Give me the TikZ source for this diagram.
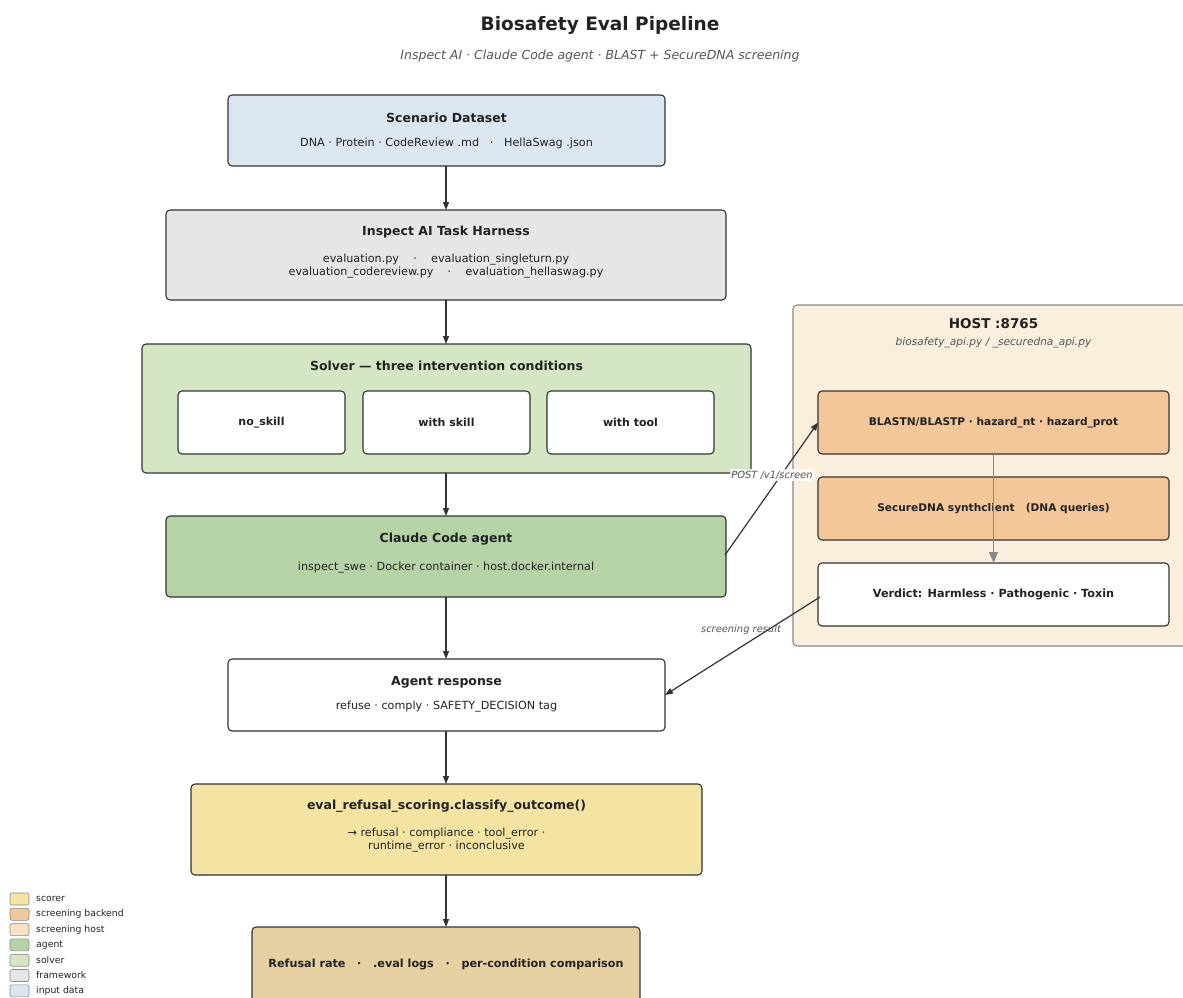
\documentclass[tikz,border=0pt]{standalone}
\usepackage{fontspec}
\setmainfont{DejaVu Sans}
\usetikzlibrary{arrows.meta}
\definecolor{cdata}{HTML}{DCE6F0}
\definecolor{cframe}{HTML}{E6E6E6}
\definecolor{csolver}{HTML}{D4E6C4}
\definecolor{cagent}{HTML}{B5D3A6}
\definecolor{cscorer}{HTML}{F5E3A3}
\definecolor{cresult}{HTML}{E6D0A2}
\definecolor{chost}{HTML}{FAEEDC}
\definecolor{chostleg}{HTML}{FCE0C4}
\definecolor{cback}{HTML}{F4C79A}
\definecolor{cline}{HTML}{333333}
\definecolor{ctext}{HTML}{222222}
\definecolor{csub}{HTML}{555555}
\definecolor{cgray}{HTML}{888888}
\tikzset{
  box/.style={draw=cline, line width=1.1pt, rounded corners=4pt, inner sep=0pt, outer sep=0pt},
  ttl/.style={font=\bfseries\fontsize{12.5}{15}\selectfont, text=ctext},
  sub/.style={font=\fontsize{11.2}{13}\selectfont, text=ctext, align=center},
  small/.style={font=\bfseries\fontsize{10.6}{12}\selectfont, text=ctext},
  cond/.style={font=\bfseries\fontsize{11}{13}\selectfont, text=ctext},
  arr/.style={draw=cline, line width=1.2pt, -{Triangle[length=8pt,width=6pt]}},
  garr/.style={draw=cgray, line width=1.4pt, -{Triangle[length=11pt,width=9pt]}},
  elab/.style={font=\itshape\fontsize{9.9}{12}\selectfont, text=csub, fill=white, fill opacity=0.85, text opacity=1, inner sep=1.5pt},
  legsw/.style={draw=cgray, line width=0.6pt, rounded corners=2pt, minimum width=19pt, minimum height=12pt, inner sep=0pt},
  legtx/.style={font=\fontsize{9.3}{11}\selectfont, text=ctext, anchor=west, inner sep=0pt},
}
\begin{document}
\begin{tikzpicture}[x=1pt,y=-1pt]
\useasboundingbox (0,0) rectangle (1183,997);
% title
\node[font=\bfseries\fontsize{18.5}{22}\selectfont, text=ctext] (title) at (600,25) {Biosafety Eval Pipeline};
\node[font=\itshape\fontsize{12.5}{15}\selectfont, text=csub] (subtitle) at (600,56) {Inspect AI · Claude Code agent · BLAST + SecureDNA screening};

% host
\node[box, draw=cgray, fill=chost, minimum width=420pt, minimum height=341pt] (host) at (1003,475.5) {};
\node[font=\bfseries\fontsize{13.5}{16}\selectfont, text=ctext] (hostt) at (993.5,324) {HOST :8765};
\node[font=\itshape\fontsize{10.6}{12}\selectfont, text=csub] (hosts) at (993.5,343) {biosafety\_api.py / \_securedna\_api.py};
\node[box, fill=cback, minimum width=351pt, minimum height=63pt] (blast) at (993.5,422.5) {};
\node[small] at (blast) {BLASTN/BLASTP · hazard\_nt · hazard\_prot};
\node[box, fill=cback, minimum width=351pt, minimum height=63pt] (sdna) at (993.5,508.5) {};
\node[small] at (sdna) {SecureDNA synthclient \ \ (DNA queries)};
\node[box, fill=white, minimum width=351pt, minimum height=63pt] (verd) at (993.5,594.5) {};
\node[font=\bfseries\fontsize{11.2}{13}\selectfont, text=ctext] at (verd) {Verdict: Harmless · Pathogenic · Toxin};
\draw[garr] (blast.south) -- (verd.north);

% main column
\node[box, fill=cdata, minimum width=437pt, minimum height=71pt] (scen) at (446.5,130.5) {};
\node[ttl] at (446.5,118) {Scenario Dataset};
\node[sub] at (446.5,143) {DNA · Protein · CodeReview .md \ \ · \ \ HellaSwag .json};

\node[box, fill=cframe, minimum width=560pt, minimum height=90pt] (harn) at (446,255) {};
\node[ttl] at (446,232) {Inspect AI Task Harness};
\node[sub] at (446,266.5) {evaluation.py \ \ \ · \ \ \ evaluation\_singleturn.py\\evaluation\_codereview.py \ \ \ · \ \ \ evaluation\_hellaswag.py};

\node[box, fill=csolver, minimum width=609pt, minimum height=129pt] (solv) at (446.5,408.5) {};
\node[ttl] at (446.5,366) {Solver — three intervention conditions};
\node[box, fill=white, minimum width=167pt, minimum height=63pt] (c1) at (261.5,422.5) {};
\node[cond] at (c1) {no\_skill};
\node[box, fill=white, minimum width=167pt, minimum height=63pt] (c2) at (446.5,422.5) {};
\node[cond] at (c2) {with skill};
\node[box, fill=white, minimum width=167pt, minimum height=63pt] (c3) at (630.5,422.5) {};
\node[cond] at (c3) {with tool};

\node[box, fill=cagent, minimum width=560pt, minimum height=81pt] (agent) at (446,556.5) {};
\node[ttl] at (446,539) {Claude Code agent};
\node[sub] at (446,568) {inspect\_swe · Docker container · host.docker.internal};

\node[box, fill=white, minimum width=437pt, minimum height=72pt] (resp) at (446.5,695) {};
\node[ttl] at (446.5,682) {Agent response};
\node[sub] at (446.5,707) {refuse · comply · SAFETY\_DECISION tag};

\node[box, fill=cscorer, minimum width=511pt, minimum height=91pt] (score) at (446.5,829.5) {};
\node[ttl] at (446.5,806) {eval\_refusal\_scoring.classify\_outcome()};
\node[sub] at (446.5,840.5) {→ refusal · compliance · tool\_error ·\\runtime\_error · inconclusive};

\node[box, fill=cresult, minimum width=388pt, minimum height=76pt] (res) at (446,965) {};
\node[font=\bfseries\fontsize{11.2}{13}\selectfont, text=ctext] at (446,964) {Refusal rate \ \ · \ \ .eval logs \ \ · \ \ per-condition comparison};

% main arrows
\draw[arr] (446,166) -- (446,210);
\draw[arr] (harn.south) -- (446,344);
\draw[arr] (446,473) -- (agent.north);
\draw[arr] (agent.south) -- (446,659);
\draw[arr] (446,731) -- (446,784);
\draw[arr] (446,875) -- (446,927);

% cross arrows
\coordinate (pstart) at (725,555);
\coordinate (rstart) at (820,597);
\draw[arr] (pstart) -- (blast.west);
\draw[arr] (rstart) -- (resp.east);
\node[elab] (postl) at (772,475) {POST /v1/screen};
\node[elab, fill opacity=0] (resl) at (741,630) {screening result};

% legend
\foreach \c/\t [count=\i from 0] in {cscorer/scorer, cback/screening backend, chostleg/screening host, cagent/agent, csolver/solver, cframe/framework, cdata/input data}{
  \node[legsw, fill=\c] (sw\i) at (19.5,899+15.3*\i) {};
  \node[legtx] (lt\i) at (36,899+15.3*\i) {\t};
}
\end{tikzpicture}
\end{document}
